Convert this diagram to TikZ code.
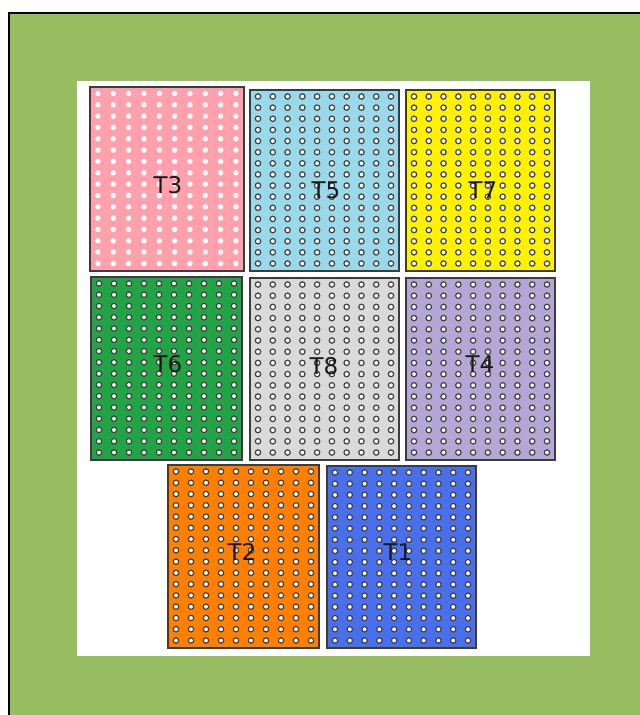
\documentclass[tikz,border=0pt]{standalone}
\usepackage{fontspec}
\setmainfont{DejaVu Sans}
\definecolor{bggreen}{RGB}{150,190,96}
\definecolor{cT3}{RGB}{255,161,172}
\definecolor{cT5}{RGB}{153,217,234}
\definecolor{cT7}{RGB}{255,242,0}
\definecolor{cT6}{RGB}{34,164,70}
\definecolor{cT8}{RGB}{218,218,218}
\definecolor{cT4}{RGB}{180,167,214}
\definecolor{cT2}{RGB}{255,127,0}
\definecolor{cT1}{RGB}{74,111,235}
\definecolor{edgegray}{RGB}{60,60,60}
\tikzset{
  panelbox/.style={draw=edgegray, line width=1.1pt},
  holedot/.style={fill=white, draw=black!75, line width=1.2pt},
  plaindot/.style={fill=white},
  paneltext/.style={font=\fontsize{23}{26}\selectfont, text=black!90, inner sep=0pt}
}
\newcommand{\mypanel}[9]{%
  % #1 name, #2 x0, #3 y0, #4 x1, #5 y1, #6 colour, #7 dot style, #8 label x, #9 label y
  \draw[panelbox, fill=#6] (#2,#3) rectangle (#4,#5);
  \foreach \ii in {0,...,9}{
    \foreach \jj in {0,...,15}{
      \path[#7] ({#2+8+\ii*(#4-#2-16)/9},{#3+6.5+\jj*(#5-#3-14)/15}) circle (2.7pt);
    }
  }
  \node[paneltext] (#1) at (#8,#9) {#1};
}
\begin{document}
\begin{tikzpicture}[x=1pt,y=-1pt]
\useasboundingbox (0,0) rectangle (640,715);
\fill[white] (0,0) rectangle (640,715);
\fill[bggreen] (9,13) rectangle (640,715);
\draw[black, line width=2pt] (9,715) -- (9,13) -- (640,13);
\fill[white] (77,81) rectangle (590,656);
\mypanel{T3}{90}{87}{244}{271}{cT3}{plaindot}{168}{185}
\mypanel{T5}{250}{90}{399}{271}{cT5}{holedot}{326}{190}
\mypanel{T7}{406}{90}{555}{271}{cT7}{holedot}{483}{190}
\mypanel{T6}{91}{277}{242}{460}{cT6}{holedot}{168}{364}
\mypanel{T8}{250}{278}{399}{460}{cT8}{holedot}{324}{366}
\mypanel{T4}{406}{278}{555}{460}{cT4}{holedot}{480}{364}
\mypanel{T2}{168}{465}{319}{648}{cT2}{holedot}{242}{552}
\mypanel{T1}{327}{466}{476}{648}{cT1}{holedot}{398}{552}
\end{tikzpicture}
\end{document}
